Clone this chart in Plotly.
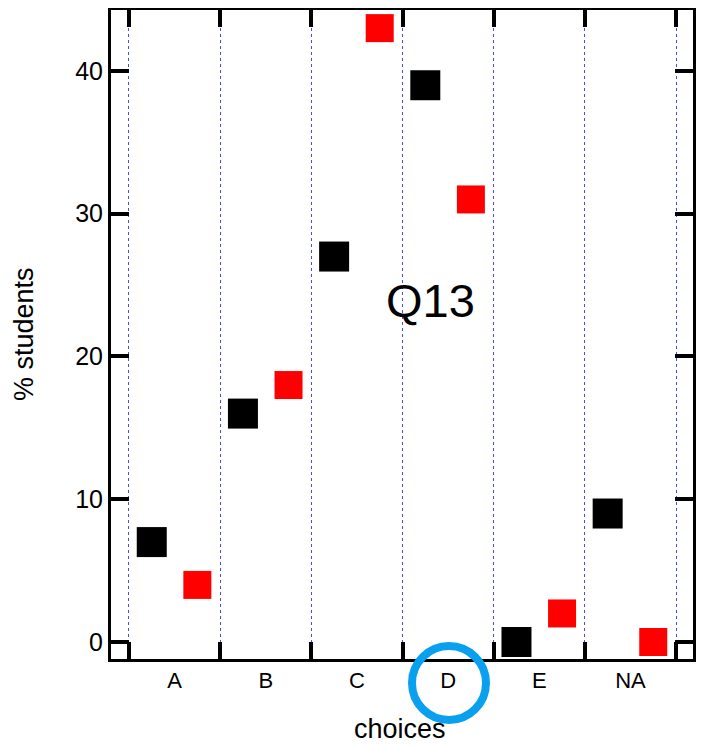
import plotly.graph_objects as go

categories = ["A", "B", "C", "D", "E", "NA"]
series_black = [7, 16, 27, 39, 0, 9]
series_red = [4, 18, 43, 31, 2, 0]
y_ticks = [0, 10, 20, 30, 40]

xc = list(range(len(categories)))
offset = 0.25
bounds = [i - 0.5 for i in range(len(categories) + 1)]

# page body has an 8px margin; work in screen coordinates
OFF = 8
W, H = 710 - OFF, 746 - OFF
L, R, T, B = 111 - OFF, 693 - OFF, 10 - OFF, 659 - OFF


def px(v):
    return (v - OFF - L) / (R - L)


def py(v):
    return (B - (v - OFF)) / (B - T)


fig = go.Figure()
fig.add_trace(go.Scatter(
    x=[i - offset for i in xc], y=series_black, mode="markers",
    marker=dict(symbol="square", size=30, color="black", line=dict(width=0)),
    showlegend=False, cliponaxis=False))
fig.add_trace(go.Scatter(
    x=[i + offset for i in xc], y=series_red, mode="markers",
    marker=dict(symbol="square", size=28, color="#ff0000", line=dict(width=0)),
    showlegend=False, cliponaxis=False))

font = "Liberation Sans, Arial, sans-serif"
fig.update_layout(
    width=W, height=H,
    margin=dict(l=L, r=W - R, t=T, b=H - B, autoexpand=False),
    paper_bgcolor="white", plot_bgcolor="white",
    font=dict(family=font, color="black", size=20),
    xaxis=dict(
        range=[-0.697, 5.686], tickvals=xc, ticktext=categories,
        ticks="", showgrid=False, zeroline=False, automargin=False,
        showline=True, linewidth=3, linecolor="black", mirror="ticks",
        tickfont=dict(size=22),
        minor=dict(tickvals=bounds, ticks="inside", ticklen=17, tickwidth=4,
                   tickcolor="black", showgrid=True, griddash="dot",
                   gridcolor="#4a4aff", gridwidth=1),
    ),
    yaxis=dict(
        range=[-1.19, 44.27], tickvals=y_ticks, ticks="inside", ticklen=18,
        tickwidth=4, tickcolor="black", showgrid=False, zeroline=False,
        automargin=False,
        showline=True, linewidth=3, linecolor="black", mirror="ticks",
        tickfont=dict(size=25),
    ),
)

fig.add_annotation(x=px(430), y=py(300), xref="paper", yref="paper",
                   xanchor="center", yanchor="middle",
                   text="Q13", showarrow=False, font=dict(size=47))
fig.add_annotation(x=px(400), y=py(729), xref="paper", yref="paper",
                   xanchor="center", yanchor="middle", borderpad=0,
                   text="choices", showarrow=False, font=dict(size=27))
fig.add_annotation(x=px(24), y=py(334), xref="paper", yref="paper",
                   xanchor="center", yanchor="middle", borderpad=0,
                   text="% students", showarrow=False, textangle=-90,
                   font=dict(size=27))

# blue circle highlighting the correct answer
fig.add_shape(type="circle", xref="paper", yref="paper",
              x0=px(412), x1=px(486), y0=py(720), y1=py(646),
              line=dict(color="#0aa0f0", width=8))

fig.write_html("out.html")
